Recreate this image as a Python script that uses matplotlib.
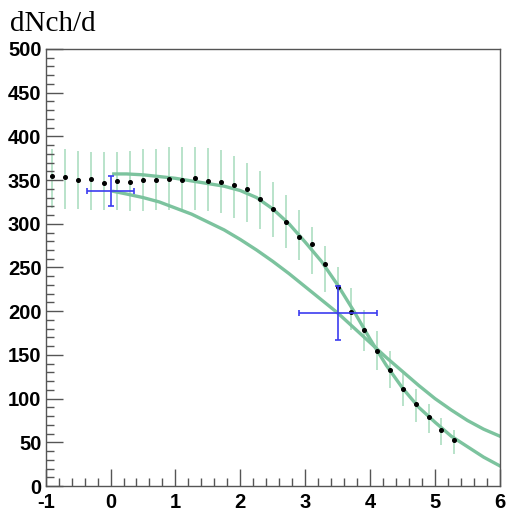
import matplotlib.pyplot as plt
from matplotlib.ticker import MultipleLocator

plt.rcParams["axes.unicode_minus"] = False

# data points (black dots)
pt_x = [-0.9, -0.7, -0.5, -0.3, -0.1, 0.1, 0.3, 0.5, 0.7, 0.9, 1.1, 1.3, 1.5, 1.7, 1.9, 2.1,
        2.3, 2.5, 2.7, 2.9, 3.1, 3.3, 3.5, 3.7, 3.9, 4.1, 4.3, 4.5, 4.7, 4.9, 5.1, 5.3]
pt_y = [355, 353, 350, 351, 347, 348.6, 347.5, 350, 350, 351, 350, 352.4, 349, 348, 344, 339.5,
        328, 316.6, 302, 284.5, 277, 254, 228, 199.5, 178, 155, 133, 111.4, 93.8, 78.6, 64, 53]

# green band (centre and half width)
band_c = [352, 351, 350, 349, 349, 349, 349, 350, 351, 352, 352, 352, 351, 348, 342.5, 335.6,
          327, 316.5, 302.6, 287, 269, 248, 225, 203, 178, 155, 133, 111, 92, 77, 62, 50.3]
band_h = [34, 34, 33, 33, 33, 33, 34, 35, 35, 36, 36, 36, 36, 36, 35.5, 34,
          33, 31.5, 30, 29, 27, 26, 25, 24, 23, 22, 21, 19.6, 18.5, 16.6, 15.3, 13.7]

# two model curves
curve_x = [0.05, 0.25, 0.5, 0.75, 1.0, 1.25, 1.5, 1.75, 2.0, 2.25, 2.5, 2.75, 3.0,
           3.25, 3.5, 3.75, 4.0, 4.25, 4.5, 4.75, 5.0, 5.25, 5.5, 5.75, 6.0]
curve_a = [357, 357, 356, 354, 352, 349, 346, 343, 338, 330, 317, 300, 279,
           257, 230, 200, 168, 138, 112, 90, 73, 57, 45, 33, 23]
curve_b = [337, 334, 330, 325, 318, 311, 302, 293, 282, 270, 257, 243, 228,
           213, 198, 181, 164, 147, 131, 115, 100, 87, 75, 65, 57]

# blue crosses
cross_x = [0.0, 3.51]
cross_y = [337.5, 198]
cross_xerr = [0.36, 0.6]
cross_yerr = [17, 30.5]

fig = plt.figure(figsize=(5.07, 5.13), dpi=100)
ax = fig.add_axes([0.090, 0.0526, 0.896, 0.852])

green = "#7cc39e"
ax.errorbar(pt_x, band_c, yerr=band_h, fmt="none", ecolor="#b3e0c6",
            elinewidth=1.3, capsize=0, zorder=1)
ax.plot(curve_x, curve_a, color=green, lw=2.4, zorder=2)
ax.plot(curve_x, curve_b, color=green, lw=2.4, zorder=2)
ax.plot(pt_x, pt_y, "o", color="black", ms=2.6, zorder=3)
ax.errorbar(cross_x, cross_y, xerr=cross_xerr, yerr=cross_yerr, fmt="none",
            ecolor="#3c3cf0", elinewidth=1.2, capsize=2.5, capthick=1.2, zorder=4)

ax.set_xlim(-1, 6)
ax.set_ylim(0, 500)
ax.xaxis.set_major_locator(MultipleLocator(1))
ax.xaxis.set_minor_locator(MultipleLocator(0.2))
ax.yaxis.set_major_locator(MultipleLocator(50))
ax.yaxis.set_minor_locator(MultipleLocator(10))
ax.tick_params(which="both", direction="in", top=False, right=False, color="#555555")
ax.tick_params(which="major", length=12, width=1)
ax.tick_params(which="minor", length=6, width=1)
ax.tick_params(axis="x", pad=5)
ax.tick_params(axis="y", pad=3)
for lab in ax.get_xticklabels() + ax.get_yticklabels():
    lab.set_fontfamily("Liberation Sans")
    lab.set_fontweight("bold")
    lab.set_fontsize(14.5)
for sp in ax.spines.values():
    sp.set_color("#555555")
    sp.set_linewidth(1)

fig.text(0.02, 0.94, "dNch/d", family="Liberation Serif", fontsize=21, ha="left", va="baseline")

fig.savefig("out.png", dpi=100)
